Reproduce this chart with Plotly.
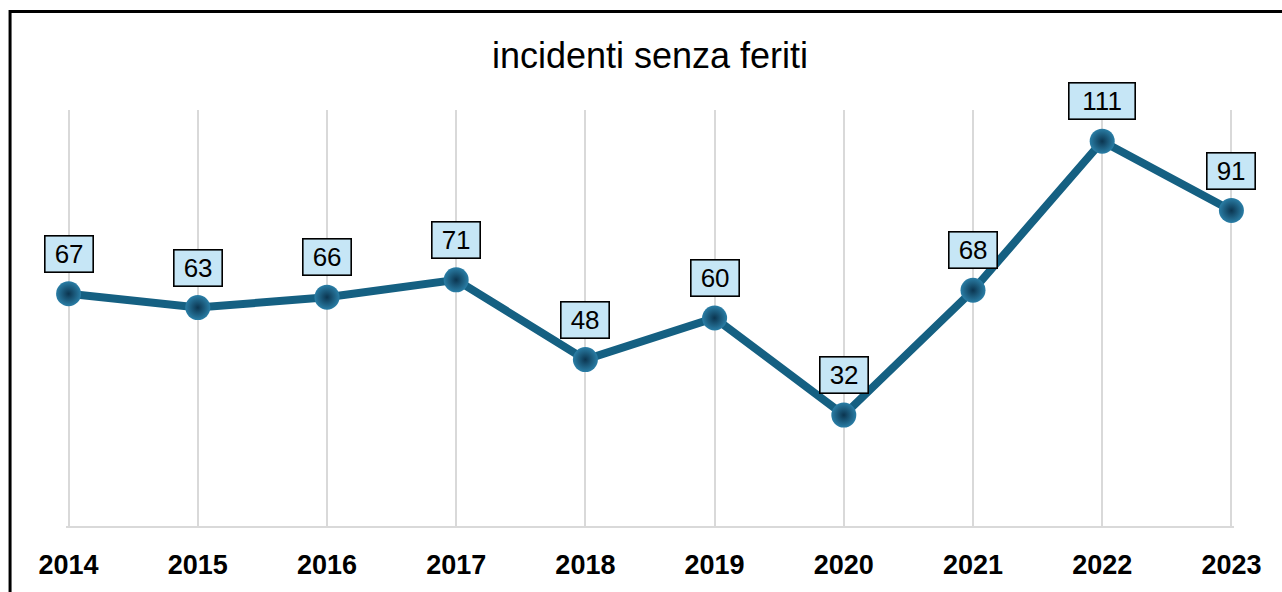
import plotly.graph_objects as go

years = [2014, 2015, 2016, 2017, 2018, 2019, 2020, 2021, 2022, 2023]
values = [67, 63, 66, 71, 48, 60, 32, 68, 111, 91]
title_text = "incidenti senza feriti"

W, H = 1282, 592
pad = 0.02
L, R, T, B = 66.4, 48.4, 110, 66
pw, ph = W - L - R, H - T - B

fig = go.Figure()
fig.add_trace(go.Scatter(
    x=years, y=values, mode="lines+markers", cliponaxis=False,
    line=dict(color="#156082", width=8),
    marker=dict(size=25, color="#2a7ea6",
                gradient=dict(type="radial", color="#0b3550"),
                line=dict(width=0)),
    hoverinfo="skip", showlegend=False,
))

for x, v in zip(years, values):
    txt = str(v)
    fig.add_annotation(
        x=x, y=v, text=txt, showarrow=False, yanchor="bottom", yshift=21,
        width=len(txt) * 18 + 5, height=29,
        font=dict(family="Liberation Sans, Arial, sans-serif", size=26, color="#000000"),
        bgcolor="#C6E6F6", bordercolor="#000000", borderwidth=1.6, borderpad=3,
    )

def px_to_paper_x(px):
    return (px - L) / pw

def px_to_paper_y(py):
    return (H - B - py) / ph

fig.add_shape(type="rect", xref="paper", yref="paper",
              x0=px_to_paper_x(10.5), x1=px_to_paper_x(W + 20),
              y0=px_to_paper_y(H + 20), y1=px_to_paper_y(11.5),
              line=dict(color="#000000", width=3), fillcolor="rgba(0,0,0,0)", layer="above")

fig.update_layout(
    width=W, height=H,
    margin=dict(l=L, r=R, t=T, b=B, autoexpand=False),
    paper_bgcolor="white", plot_bgcolor="white",
    title=dict(text=title_text, x=px_to_paper_x(650), xref="paper", xanchor="center",
               y=1 - 55 / H, yanchor="middle",
               font=dict(family="Liberation Sans, Arial, sans-serif", size=36, color="#000000")),
    xaxis=dict(range=[years[0] - pad, years[-1] + pad], tickmode="array", tickvals=years,
               ticktext=[str(y) for y in years], showgrid=True, gridcolor="#D9D9D9", gridwidth=2,
               showline=True, linecolor="#D9D9D9", linewidth=2, zeroline=False,
               ticks="", ticklabelstandoff=14, automargin=False,
               tickfont=dict(family="Liberation Sans, Arial, sans-serif", size=27, color="#000000",
                             weight="bold")),
    yaxis=dict(range=[0, 120], showgrid=False, zeroline=False, showticklabels=False,
               showline=False, ticks="", automargin=False),
)

fig.write_html("out.html", config={"displayModeBar": False},
               post_script="document.body.style.margin='0';document.body.style.overflow='hidden';")
